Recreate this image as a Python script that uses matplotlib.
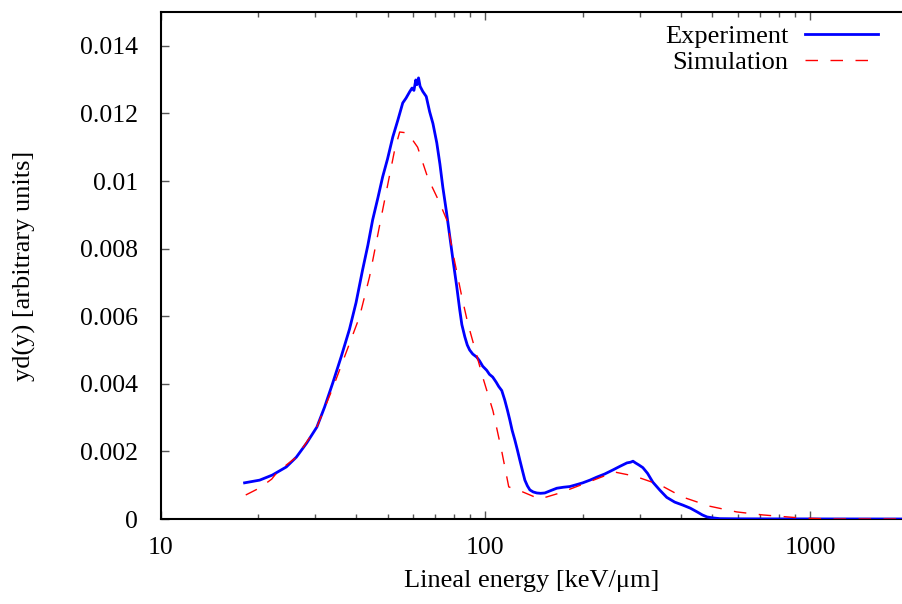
import matplotlib
matplotlib.use("Agg")
import matplotlib.pyplot as plt
from matplotlib.ticker import LogLocator, NullFormatter, FixedLocator, FixedFormatter

plt.rcParams['font.family'] = ['Liberation Serif', 'DejaVu Serif']

# Measured microdosimetric spectrum (lineal energy in keV/um, yd(y) arbitrary units)
exp_y = [18.15, 20.2, 22.1, 24.4, 26.2, 28.2, 30.3, 32.0, 33.9, 36.0, 38.2,
         40.0, 41.9, 43.5, 45.0, 46.7, 48.3, 50.0, 51.9, 53.8, 55.7, 57.0,
         58.5, 59.5, 60.3, 61.1, 61.6, 62.3, 63.0, 64.2, 65.8, 67.4, 69.0,
         70.9, 72.5, 74.0, 75.9, 77.8, 79.7, 81.7, 83.4, 84.7, 86.5, 88.0,
         89.5, 91.5, 94.1, 96.0, 98.2, 101.0, 103.0, 105.4, 108.0, 110.0,
         112.4, 114.8, 117.0, 119.0, 121.0, 123.3, 125.5, 127.7, 130.0,
         132.4, 134.8, 137.2, 140.5, 144.1, 148.0, 152.5, 159.0, 166.0,
         174.0, 182.0, 190.0, 199.6, 210.0, 220.6, 233.0, 247.0, 260.0,
         273.0, 280.0, 285.0, 290.0, 297.0, 305.6, 316.0, 328.0, 345.0,
         362.0, 383.0, 406.0, 428.0, 449.0, 466.0, 482.0, 505.0, 528.0,
         600.0, 750.0, 1000.0, 1300.0, 1919.0]
exp_d = [0.00107, 0.00115, 0.00130, 0.00154, 0.00183, 0.00225, 0.00272,
         0.00331, 0.00402, 0.00480, 0.00562, 0.00640, 0.00737, 0.00810,
         0.00885, 0.00950, 0.01012, 0.01065, 0.01130, 0.01180, 0.01231,
         0.01245, 0.01264, 0.01275, 0.01268, 0.01299, 0.01285, 0.01305,
         0.01280, 0.01265, 0.01250, 0.01205, 0.01170, 0.01113, 0.01050,
         0.00982, 0.00910, 0.00834, 0.00760, 0.00687, 0.00620, 0.00575,
         0.00539, 0.00515, 0.00500, 0.00488, 0.00479, 0.00468, 0.00452,
         0.00440, 0.00428, 0.00420, 0.00405, 0.00392, 0.00380, 0.00352,
         0.00322, 0.00293, 0.00262, 0.00234, 0.00205, 0.00175, 0.00145,
         0.00115, 0.00098, 0.00086, 0.00080, 0.00077, 0.00076, 0.00077,
         0.00084, 0.00091, 0.00094, 0.00096, 0.00101, 0.00107, 0.00115,
         0.00124, 0.00133, 0.00145, 0.00156, 0.00166, 0.00168, 0.00171,
         0.00166, 0.00160, 0.00152, 0.00135, 0.00109, 0.00085, 0.00064,
         0.00050, 0.00041, 0.00032, 0.00021, 0.00012, 0.00006, 0.00003,
         0.00001, 0.000005, 0.000003, 0.000002, 0.000001, 0.0]

# Simulated spectrum
sim_y = [18.3, 20.2, 22.0, 22.9, 26.2, 30.3, 34.0, 41.0, 44.0, 48.3, 52.6,
         54.5, 57.7, 61.9, 66.5, 72.4, 76.1, 79.5, 84.7, 88.3, 98.2, 105.6,
         112.4, 118.1, 130.5, 147.0, 169.7, 205.0, 250.0, 288.0, 345.0,
         405.0, 490.0, 594.0, 716.0, 935.0, 1150.0, 1919.0]
sim_d = [0.00071, 0.00092, 0.00118, 0.00139, 0.00183, 0.00272, 0.00390,
         0.00598, 0.00716, 0.00914, 0.01092, 0.01145, 0.01142, 0.01100,
         0.01010, 0.00935, 0.00885, 0.00787, 0.00657, 0.00580, 0.00420,
         0.00320, 0.00200, 0.00095, 0.00080, 0.00059, 0.00077, 0.00107,
         0.00139, 0.00127, 0.00101, 0.00065, 0.00038, 0.00021, 0.00012,
         0.00003, 0.0, 0.0]

x_ticks = [10, 100, 1000]
x_labels = ["10", "100", "1000"]
y_ticks = [0, 0.002, 0.004, 0.006, 0.008, 0.01, 0.012, 0.014]
y_labels = ["0", "0.002", "0.004", "0.006", "0.008", "0.01", "0.012", "0.014"]

W, H = 902, 604
fig = plt.figure(figsize=(W / 100, H / 100), dpi=100)
left_px, right_px, top_px, bottom_px = 160.5, 902, 12, 519
ax = fig.add_axes([left_px / W, 1 - bottom_px / H,
                   (right_px - left_px) / W, (bottom_px - top_px) / H])

ax.plot(exp_y, exp_d, color='#0000ff', lw=2.0, label='Experiment', zorder=3)
ax.plot(sim_y, sim_d, color='#ff0000', lw=1.0, dashes=(9, 9),
        label='Simulation', zorder=4)

ax.set_xscale('log')
ax.set_xlim(10, 1919)
ax.set_ylim(0, 0.015)

ax.xaxis.set_major_locator(FixedLocator(x_ticks))
ax.xaxis.set_major_formatter(FixedFormatter(x_labels))
ax.xaxis.set_minor_locator(LogLocator(base=10, subs=range(2, 10)))
ax.xaxis.set_minor_formatter(NullFormatter())
ax.yaxis.set_major_locator(FixedLocator(y_ticks))
ax.yaxis.set_major_formatter(FixedFormatter(y_labels))

ax.tick_params(axis='both', which='both', direction='in', colors='#555555',
               labelcolor='black', labelsize=18.5, top=True, right=False)
ax.tick_params(axis='both', which='major', length=6, width=1.0)
ax.tick_params(axis='both', which='minor', length=3.5, width=1.0)
ax.tick_params(axis='x', which='major', pad=13)
ax.tick_params(axis='y', which='major', pad=16)

for side in ('left', 'bottom', 'top'):
    ax.spines[side].set_linewidth(1.5)
    ax.spines[side].set_color('black')
ax.spines['right'].set_visible(False)

ax.set_xlabel('Lineal energy [keV/μm]', fontsize=19, labelpad=8)
ax.set_ylabel('yd(y) [arbitrary units]', fontsize=19, labelpad=32)

leg = ax.legend(loc='upper right', bbox_to_anchor=(0.992, 1.012), frameon=False,
                markerfirst=False, fontsize=19, handlelength=2.75,
                handletextpad=0.62, labelspacing=0.12, borderaxespad=0.3)

fig.savefig('out.png', dpi=100)
